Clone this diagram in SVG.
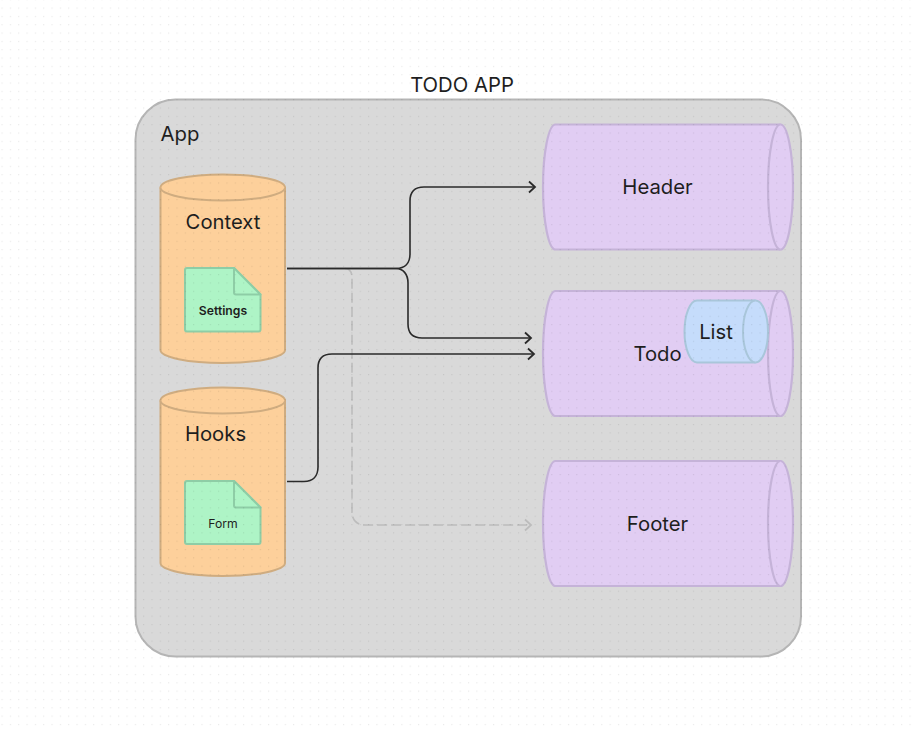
<svg xmlns="http://www.w3.org/2000/svg" width="917" height="729" viewBox="0 0 917 729">
<style>
text{font-family:Inter,"Noto Sans","Liberation Sans",sans-serif;text-anchor:middle;fill:#1e1e1e}
.app{fill:#d9d9d9;stroke:#b5b5b5;stroke-width:2}
.or{fill:#fdd09b;stroke:#cfac80;stroke-width:2}
.pu{fill:#e1cdf3;stroke:#c5b3d8;stroke-width:2.2}
.bl{fill:#c5dcfb;stroke:#a9c6da;stroke-width:2}
.gr{fill:#aef4c6;stroke:#8ecda6;stroke-width:2;stroke-linejoin:round}
.ln{fill:none;stroke:#2a2a2a;stroke-width:1.6}
.da{fill:none;stroke:#bcbcbc;stroke-width:1.6;stroke-dasharray:10 4}
.t20{font-size:20.300px}
.t12{font-size:12.200px}
</style>
<defs>
<pattern id="dots" width="8.33" height="8.33" patternUnits="userSpaceOnUse" x="1.5" y="-0.8">
<rect x="0.1" y="0.1" width="1" height="1" fill="#000" fill-opacity="0.11"/>
</pattern>
<marker id="a" markerWidth="12" markerHeight="14" refX="8" refY="7" orient="auto" markerUnits="userSpaceOnUse"><path d="M2 1.500L8 7L2 12.500" fill="none" stroke="#2a2a2a" stroke-width="1.8"/></marker>
<marker id="ag" markerWidth="12" markerHeight="14" refX="8" refY="7" orient="auto" markerUnits="userSpaceOnUse"><path d="M2 1.500L8 7L2 12.500" fill="none" stroke="#bcbcbc" stroke-width="1.8"/></marker>
</defs>
<rect width="917" height="729" fill="#fff"/>
<text x="462" y="92" class="t20">TODO APP</text>
<g id="app">
<rect class="app" x="135.500" y="99.500" width="665.500" height="557" rx="40"/>
<text x="180" y="141" class="t20">App</text>
</g>
<g id="context">
<path class="or" d="M160.500 187.500A62.250 13 0 0 1 285 187.500V350A62.250 13 0 0 1 160.500 350Z"/>
<path class="or" d="M160.500 187.500A62.250 13 0 0 0 285 187.500"/>
<text x="223" y="229" class="t20">Context</text>
</g>
<g id="settings">
<path class="gr" d="M185 270a2 2 0 0 1 2-2H234L260.500 294.500V329.500a2 2 0 0 1-2 2H187a2 2 0 0 1-2-2Z"/>
<path class="gr" d="M234 268V292.500a2 2 0 0 0 2 2H260.500Z"/>
<text x="223" y="315" class="t12" font-weight="600">Settings</text>
</g>
<g id="hooks">
<path class="or" d="M160.500 400.500A62.250 13 0 0 1 285 400.500V563A62.250 13 0 0 1 160.500 563Z"/>
<path class="or" d="M160.500 400.500A62.250 13 0 0 0 285 400.500"/>
<text x="215.500" y="441" class="t20">Hooks</text>
</g>
<g id="form">
<path class="gr" d="M185 483a2 2 0 0 1 2-2H234L260.500 507.500V542a2 2 0 0 1-2 2H187a2 2 0 0 1-2-2Z"/>
<path class="gr" d="M234 481V505.500a2 2 0 0 0 2 2H260.500Z"/>
<text x="223" y="528" class="t12">Form</text>
</g>
<g id="header">
<path class="pu" d="M555.500 124.500H780.500A12.500 62.500 0 0 1 780.500 249.500H555.500A12.500 62.500 0 0 1 555.500 124.500Z"/>
<path class="pu" d="M780.500 124.500A12.500 62.500 0 0 0 780.500 249.500"/>
<text x="657.500" y="194" class="t20">Header</text>
</g>
<g id="todo">
<path class="pu" d="M555.500 291H780.500A12.500 62.500 0 0 1 780.500 416H555.500A12.500 62.500 0 0 1 555.500 291Z"/>
<path class="pu" d="M780.500 291A12.500 62.500 0 0 0 780.500 416"/>
<text x="657.500" y="361" class="t20">Todo</text>
</g>
<g id="list">
<path class="bl" d="M697 300.500H755.500A12.500 31 0 0 1 755.500 362.500H697A12.500 31 0 0 1 697 300.500Z"/>
<path class="bl" d="M755.500 300.500A12.500 31 0 0 0 755.500 362.500"/>
<text x="716" y="339" class="t20">List</text>
</g>
<g id="footer">
<path class="pu" d="M555.500 461H780.500A12.500 62.500 0 0 1 780.500 586H555.500A12.500 62.500 0 0 1 555.500 461Z"/>
<path class="pu" d="M780.500 461A12.500 62.500 0 0 0 780.500 586"/>
<text x="657.500" y="531" class="t20">Footer</text>
</g>
<g id="connectors">
<path class="da" marker-end="url(#ag)" d="M345 268.500C349 268.500 352 272 352 277V512C352 520 357 525 365 525H531"/>
<path class="ln" marker-end="url(#a)" d="M287 268.500H396C405 268.500 410 263 410 254V201C410 192 415 187 424 187H535"/>
<path class="ln" marker-end="url(#a)" d="M287 268.500H396C403 268.500 408 274 408 283V324C408 333 413 338 422 338H531"/>
<path class="ln" marker-end="url(#a)" d="M287 481.500H304C313 481.500 318 476 318 467V368C318 359 323 354 332 354H534"/>
</g>
<rect width="917" height="729" fill="url(#dots)" pointer-events="none"/>
</svg>
